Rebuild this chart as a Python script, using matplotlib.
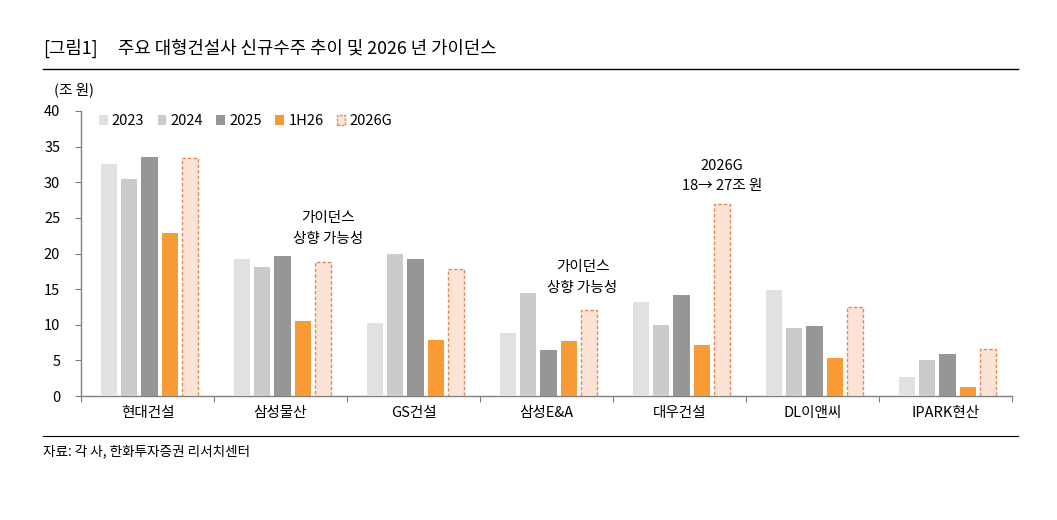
import matplotlib
matplotlib.use("Agg")
import matplotlib.pyplot as plt
import numpy as np
from matplotlib.patches import Patch

plt.rcParams['font.family'] = ['Noto Sans CJK KR', 'DejaVu Sans']

categories = ['현대건설', '삼성물산', 'GS건설', '삼성E&A', '대우건설', 'DL이앤씨', 'IPARK현산']
series_names = ['2023', '2024', '2025', '1H26', '2026G']
v2023 = [32.5, 19.2, 10.2, 8.8, 13.2, 14.9, 2.7]
v2024 = [30.5, 18.1, 19.9, 14.4, 10.0, 9.5, 5.0]
v2025 = [33.5, 19.6, 19.2, 6.4, 14.2, 9.8, 5.9]
v1h26 = [22.9, 10.5, 7.9, 7.7, 7.2, 5.3, 1.3]
v2026g = [33.4, 18.8, 17.8, 12.1, 27.0, 12.5, 6.6]
yticks = [0, 5, 10, 15, 20, 25, 30, 35, 40]

fig = plt.figure(figsize=(10.57, 5.2), dpi=100)
ax = fig.add_axes([81/1057, 1-396/520, (1012-81)/1057, (396-111)/520])

x = np.arange(len(categories))
step = 0.153
w = 0.124
fills = ['#e1e1e1', '#cbcbcb', '#969696', '#f89a36', '#fce3d6']
data = [v2023, v2024, v2025, v1h26, v2026g]
for i, (vals, c) in enumerate(zip(data, fills)):
    off = (i - 2) * step + 0.015
    if i == 4:
        ax.bar(x + off, vals, w, color=c, edgecolor='#e08a5a', linestyle=(0, (2.5, 1.5)), linewidth=1.0, zorder=3)
    else:
        ax.bar(x + off, vals, w, color=c, zorder=3)

ax.set_xlim(-0.5, len(categories) - 0.5)
ax.set_ylim(0, 40)
ax.set_yticks(yticks)
ax.set_yticklabels([str(t) for t in yticks], fontsize=10.5)
ax.set_xticks(np.arange(len(categories) + 1) - 0.5)
ax.set_xticklabels([])
ax.set_xticks(x, minor=True)
ax.set_xticklabels(categories, minor=True, fontsize=10.5)
ax.tick_params(axis='x', which='minor', length=0, pad=7)
ax.tick_params(axis='x', which='major', length=4, color='#808080', direction='out')
ax.tick_params(axis='y', length=4, color='#808080', direction='out', pad=11)
for s in ['top', 'right']:
    ax.spines[s].set_visible(False)
for s in ['left', 'bottom']:
    ax.spines[s].set_color('#808080')
    ax.spines[s].set_linewidth(1.0)

handles = [Patch(facecolor=fills[0]), Patch(facecolor=fills[1]), Patch(facecolor=fills[2]),
           Patch(facecolor=fills[3]), Patch(facecolor=fills[4], edgecolor='#e08a5a', linestyle=(0, (2, 1)))]
ax.legend(handles, series_names, ncol=5, frameon=False, loc='upper left',
          bbox_to_anchor=(0.005, 1.035), fontsize=10.5, handlelength=0.6, handleheight=0.6,
          handletextpad=0.3, columnspacing=0.9)

ax.text(1.36, 23.5, '가이던스\n상향 가능성', ha='center', va='center', fontsize=10.5, linespacing=1.6)
ax.text(3.27, 16.6, '가이던스\n상향 가능성', ha='center', va='center', fontsize=10.5, linespacing=1.6)
ax.text(4.32, 30.9, '2026G\n18→ 27조 원', ha='center', va='center', fontsize=10.5, linespacing=1.6)

fig.text(43/1057, 1-48/520, '[그림1]', fontsize=12.8, va='center', ha='left')
fig.text(118/1057, 1-48/520, '주요 대형건설사 신규수주 추이 및 2026 년 가이던스', fontsize=12.8, va='center', ha='left')
fig.add_artist(plt.Line2D([43/1057, 1018/1057], [1-69/520, 1-69/520], color='black', linewidth=1.0))
fig.text(54/1057, 1-90/520, '(조 원)', fontsize=10.5, va='center', ha='left')
fig.add_artist(plt.Line2D([43/1057, 1018/1057], [1-436/520, 1-436/520], color='black', linewidth=0.8))
fig.text(43/1057, 1-451/520, '자료: 각 사, 한화투자증권 리서치센터', fontsize=9.8, va='center', ha='left')

fig.savefig('out.png', dpi=100)
